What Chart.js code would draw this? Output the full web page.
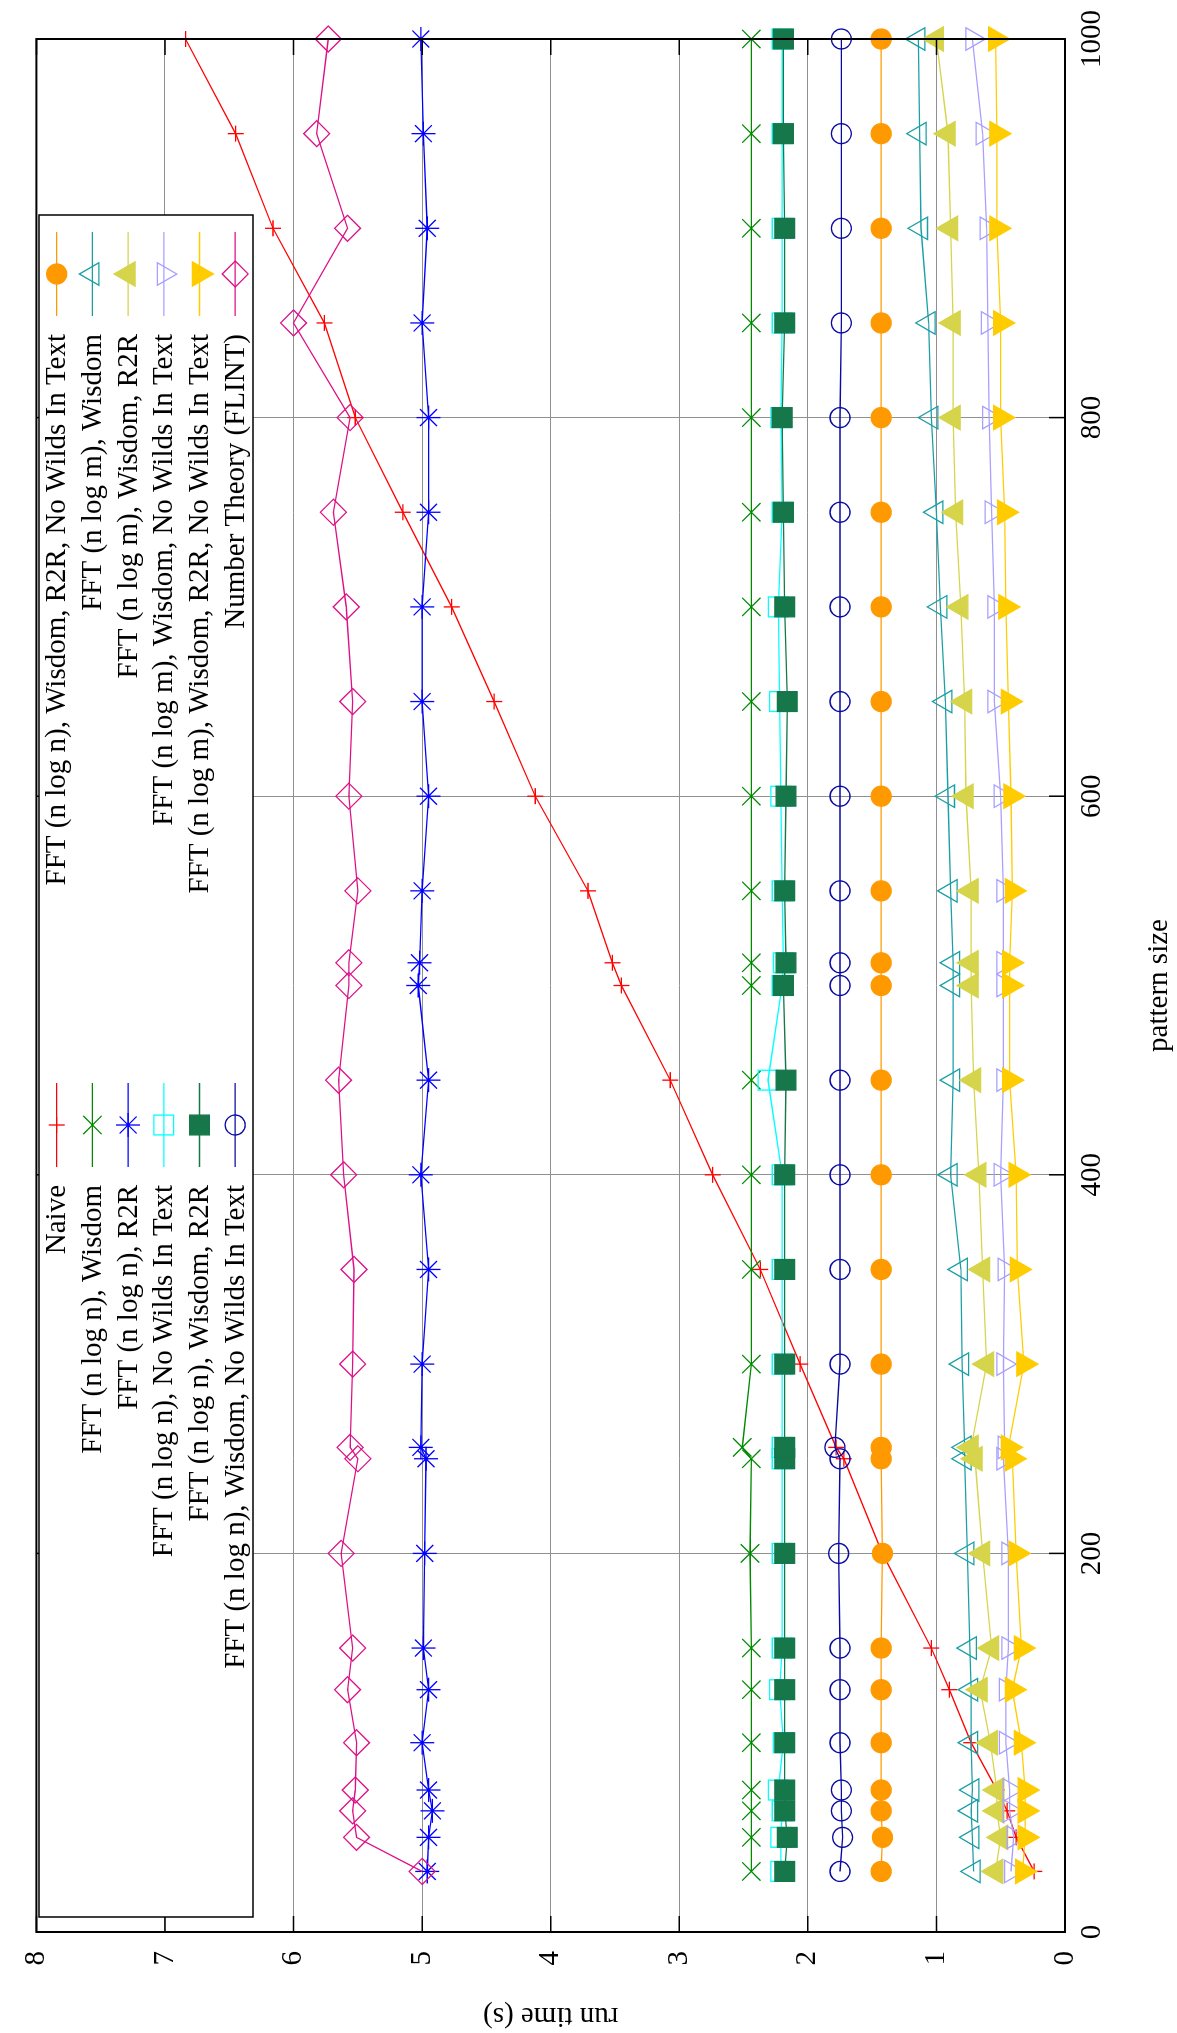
<!DOCTYPE html>
<html>
<head>
<meta charset="utf-8">
<script src="https://cdn.jsdelivr.net/npm/chart.js@4.4.1/dist/chart.umd.min.js"></script>
<style>
html, body { margin: 0; padding: 0; background: #fff; overflow: hidden; }
/* chart is drawn landscape, then turned a quarter to the left like the reference */
#wrap { position: absolute; left: 0; top: 0; width: 2033px; height: 1177px;
        transform-origin: 0 0; transform: translate(0, 2033px) rotate(-90deg); }
</style>
</head>
<body>
<div id="wrap"><canvas id="chart"></canvas></div>
<script>
// pattern sizes (x)
const patternSizes = [32, 50, 64, 75, 100, 128, 150, 200, 250, 256, 300, 350, 400, 450, 500, 512, 550, 600, 650, 700, 750, 800, 850, 900, 950, 1000];

// run times (s)
const naive         = [0.24, 0.38, 0.45, 0.53, 0.73, 0.90, 1.04, 1.42, 1.72, 1.78, 2.06, 2.37, 2.74, 3.07, 3.45, 3.52, 3.71, 4.12, 4.44, 4.77, 5.15, 5.52, 5.76, 6.16, 6.45, 6.84];
const nWisdom       = [2.44, 2.44, 2.44, 2.44, 2.44, 2.44, 2.44, 2.45, 2.44, 2.51, 2.44, 2.44, 2.44, 2.44, 2.44, 2.44, 2.44, 2.44, 2.44, 2.44, 2.44, 2.44, 2.44, 2.44, 2.44, 2.44];
const nR2R          = [4.96, 4.95, 4.92, 4.95, 5.00, 4.95, 4.99, 4.98, 4.97, 5.01, 5.00, 4.95, 5.01, 4.95, 5.03, 5.02, 5.00, 4.95, 5.00, 5.00, 4.95, 4.95, 5.00, 4.96, 4.99, 5.01];
const nNoWilds      = [2.21, 2.21, 2.20, 2.23, 2.19, 2.22, 2.20, 2.20, 2.20, 2.20, 2.20, 2.20, 2.20, 2.31, 2.20, 2.19, 2.20, 2.21, 2.22, 2.23, 2.20, 2.21, 2.20, 2.20, 2.20, 2.20];
const nWisdomR2R    = [2.18, 2.16, 2.18, 2.18, 2.18, 2.18, 2.18, 2.18, 2.18, 2.18, 2.18, 2.18, 2.18, 2.17, 2.19, 2.17, 2.18, 2.17, 2.16, 2.18, 2.19, 2.20, 2.18, 2.18, 2.19, 2.19];
const nWisdomNoW    = [1.75, 1.73, 1.74, 1.74, 1.75, 1.75, 1.75, 1.76, 1.75, 1.79, 1.75, 1.75, 1.75, 1.75, 1.75, 1.75, 1.75, 1.75, 1.75, 1.75, 1.75, 1.75, 1.74, 1.74, 1.74, 1.74];
const nWisdomR2RNoW = [1.43, 1.42, 1.43, 1.43, 1.43, 1.43, 1.43, 1.42, 1.43, 1.43, 1.43, 1.43, 1.43, 1.43, 1.43, 1.43, 1.43, 1.43, 1.43, 1.43, 1.43, 1.43, 1.43, 1.43, 1.43, 1.43];
const mWisdom       = [0.71, 0.72, 0.73, 0.72, 0.73, 0.73, 0.74, 0.76, 0.78, 0.78, 0.80, 0.81, 0.89, 0.87, 0.87, 0.87, 0.89, 0.91, 0.93, 0.97, 1.00, 1.04, 1.06, 1.12, 1.13, 1.14];
const mWisdomR2R    = [0.54, 0.50, 0.53, 0.53, 0.58, 0.66, 0.57, 0.64, 0.70, 0.73, 0.61, 0.64, 0.67, 0.71, 0.73, 0.73, 0.73, 0.77, 0.78, 0.81, 0.85, 0.87, 0.87, 0.89, 0.91, 1.00];
const mWisdomNoW    = [0.42, 0.40, 0.43, 0.43, 0.46, 0.46, 0.44, 0.44, 0.48, 0.47, 0.48, 0.47, 0.50, 0.48, 0.48, 0.48, 0.48, 0.50, 0.55, 0.55, 0.57, 0.59, 0.60, 0.61, 0.64, 0.72];
const mWisdomR2RNoW = [0.33, 0.31, 0.31, 0.31, 0.34, 0.41, 0.34, 0.38, 0.41, 0.44, 0.32, 0.37, 0.38, 0.43, 0.43, 0.43, 0.41, 0.42, 0.44, 0.46, 0.47, 0.50, 0.50, 0.53, 0.53, 0.54];
const flint         = [5.00, 5.51, 5.54, 5.52, 5.51, 5.58, 5.54, 5.63, 5.50, 5.56, 5.54, 5.53, 5.61, 5.65, 5.57, 5.57, 5.50, 5.57, 5.54, 5.59, 5.69, 5.56, 6.00, 5.58, 5.82, 5.73];

const xTicks = [0, 200, 400, 600, 800, 1000];
const yTicks = [0, 1, 2, 3, 4, 5, 6, 7, 8];

// label, values, colour, marker, radius, rotation, filled
const series = [
  ['Naive', naive, '#ff0000', 'cross', 8, 0, false],
  ['FFT (n log n), Wisdom', nWisdom, '#008a00', 'crossRot', 13, 0, false],
  ['FFT (n log n), R2R', nR2R, '#0000ff', 'star', 12, 0, false],
  ['FFT (n log n), No Wilds In Text', nNoWilds, '#00ffff', 'rect', 14, 0, false],
  ['FFT (n log n), Wisdom, R2R', nWisdomR2R, '#16774a', 'rect', 14, 0, true],
  ['FFT (n log n), Wisdom, No Wilds In Text', nWisdomNoW, '#0a0aa0', 'circle', 10, 0, false],
  ['FFT (n log n), Wisdom, R2R, No Wilds In Text', nWisdomR2RNoW, '#ff9900', 'circle', 10, 0, true],
  ['FFT (n log m), Wisdom', mWisdom, '#1a9fa5', 'triangle', 13, 0, false],
  ['FFT (n log m), Wisdom, R2R', mWisdomR2R, '#d6d44a', 'triangle', 14, 0, true],
  ['FFT (n log m), Wisdom, No Wilds In Text', mWisdomNoW, '#a89fff', 'triangle', 13, 180, false],
  ['FFT (n log m), Wisdom, R2R, No Wilds In Text', mWisdomR2RNoW, '#ffcc00', 'triangle', 14, 180, true],
  ['Number Theory (FLINT)', flint, '#dd1187', 'rectRot', 13, 0, false]
];

const datasets = series.map((s, i) => ({
  label: s[0],
  data: patternSizes.map((p, j) => ({ x: p, y: s[1][j] })),
  showLine: true,
  borderColor: s[2],
  borderWidth: 1.3,
  pointStyle: s[3],
  pointRadius: s[4],
  pointRotation: s[5],
  pointBorderColor: s[2],
  pointBackgroundColor: s[6] ? s[2] : 'rgba(0,0,0,0)',
  pointBorderWidth: 1.3,
  order: series.length - i,
  clip: false
}));

const FONT = 'Liberation Serif';
Chart.defaults.font.family = FONT;
Chart.defaults.color = '#000';

// border and inward ticks on all four sides, like gnuplot
const frame = {
  id: 'frame',
  afterDatasetsDraw(chart) {
    const ctx = chart.ctx, a = chart.chartArea;
    const xs = chart.scales.x, ys = chart.scales.y;
    ctx.save();
    ctx.strokeStyle = '#000';
    ctx.lineWidth = 1.5;
    ctx.beginPath();
    xTicks.forEach(t => {
      const px = xs.getPixelForValue(t);
      ctx.moveTo(px, a.bottom); ctx.lineTo(px, a.bottom - 16);
      ctx.moveTo(px, a.top); ctx.lineTo(px, a.top + 16);
    });
    yTicks.forEach(t => {
      const py = ys.getPixelForValue(t);
      ctx.moveTo(a.left, py); ctx.lineTo(a.left + 16, py);
      ctx.moveTo(a.right, py); ctx.lineTo(a.right - 16, py);
    });
    ctx.stroke();
    ctx.lineWidth = 2;
    ctx.strokeRect(a.left, a.top, a.right - a.left, a.bottom - a.top);
    ctx.restore();
  }
};

// opaque key box, two columns, text then sample
const key = {
  id: 'key',
  afterDraw(chart) {
    const ctx = chart.ctx;
    const x0 = 116, x1 = 1818, y0 = 39, y1 = 253;
    ctx.save();
    ctx.fillStyle = '#fff';
    ctx.fillRect(x0, y0, x1 - x0, y1 - y0);
    ctx.strokeStyle = '#000';
    ctx.lineWidth = 1.5;
    ctx.strokeRect(x0, y0, x1 - x0, y1 - y0);
    ctx.font = '29px "' + FONT + '"';
    ctx.textAlign = 'right';
    ctx.textBaseline = 'middle';
    chart.data.datasets.forEach((ds, i) => {
      const col = Math.floor(i / 6), row = i % 6;
      const sx = col ? 1759 : 908;
      const sy = 56.7 + row * 35.7;
      ctx.strokeStyle = ds.borderColor;
      ctx.lineWidth = 1.3;
      ctx.beginPath();
      ctx.moveTo(sx - 42, sy); ctx.lineTo(sx + 42, sy);
      ctx.stroke();
      ctx.fillStyle = ds.pointBackgroundColor;
      ctx.lineWidth = ds.pointBorderWidth;
      Chart.helpers.drawPoint(ctx, {
        pointStyle: ds.pointStyle, radius: ds.pointRadius,
        rotation: ds.pointRotation, borderWidth: ds.pointBorderWidth
      }, sx, sy);
      ctx.fillStyle = '#000';
      ctx.fillText(ds.label, sx - 60, sy + 1);
    });
    ctx.restore();
  }
};

const gridColor = (ends) => (c) =>
  (c.tick && ends.includes(c.tick.value)) ? 'rgba(0,0,0,0)' : '#909090';

new Chart(document.getElementById('chart'), {
  type: 'scatter',
  data: { datasets },
  plugins: [frame, key],
  options: {
    responsive: true,
    maintainAspectRatio: false,
    animation: false,
    layout: { padding: { top: 21, right: 37, left: 0, bottom: 0 } },
    plugins: { legend: { display: false }, tooltip: { enabled: false } },
    scales: {
      x: {
        type: 'linear', position: 'bottom', min: 0, max: 1000,
        afterBuildTicks: s => { s.ticks = xTicks.map(v => ({ value: v })); },
        afterFit: s => { s.height = 112; },
        ticks: { font: { size: 29 }, padding: 10, callback: v => String(v), maxRotation: 0 },
        grid: { color: gridColor([0, 1000]), lineWidth: 1, drawTicks: false },
        border: { display: false },
        title: { display: true, text: 'pattern size', font: { size: 29 }, padding: 0 }
      },
      y: {
        type: 'linear', position: 'left', min: 0, max: 8,
        afterBuildTicks: s => { s.ticks = yTicks.map(v => ({ value: v })); },
        afterFit: s => { s.width = 101; },
        ticks: { font: { size: 29 }, padding: 19, callback: v => String(v) },
        grid: { color: gridColor([0, 8]), lineWidth: 1, drawTicks: false },
        border: { display: false },
        title: { display: true, text: 'run time (s)', font: { size: 29 }, padding: 0 }
      }
    }
  }
});
</script>
</body>
</html>
